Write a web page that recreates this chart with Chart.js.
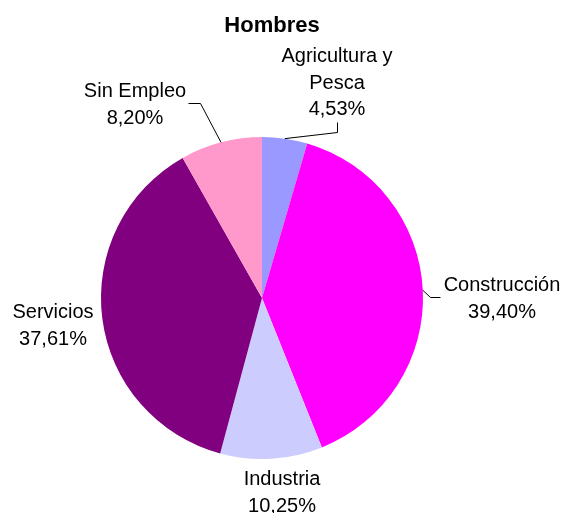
<!DOCTYPE html>
<html>
<head>
<meta charset="utf-8">
<script src="https://cdn.jsdelivr.net/npm/chart.js@4/dist/chart.umd.min.js"></script>
<style>
  html, body { margin: 0; padding: 0; background: #fff; }
  #wrap { width: 566px; height: 513px; position: relative; }
</style>
</head>
<body>
<div id="wrap"><canvas id="c"></canvas></div>
<script>
// data
const categories = ["Agricultura y Pesca", "Construcción", "Industria", "Servicios", "Sin Empleo"];
const values = [4.53, 39.40, 10.25, 37.61, 8.20];
const colors = ["#9999FF", "#FF00FF", "#CCCCFF", "#800080", "#FF99CC"];

// label text lines, anchor (center x, first baseline) and optional leader elbow/end
const labelLines = [
    ["Agricultura y", "Pesca"],
    ["Construcción"],
    ["Industria"],
    ["Servicios"],
    ["Sin Empleo"]
];
const labelPos = [
    { x: 337, y: 62, leader: [[337, 132], [337, 122]] },
    { x: 502, y: 291, leader: [[430, 297], [440, 297]] },
    { x: 282, y: 485, leader: null },
    { x: 53, y: 318, leader: null },
    { x: 135, y: 97, leader: [[200, 103], [188, 103]] }
];

const fmt = v => v.toFixed(2).replace(".", ",") + "%";
const FONT = '"Liberation Sans", Arial, sans-serif';

const pieLabels = {
    id: "pieLabels",
    afterDraw(chart) {
        const ctx = chart.ctx;
        const meta = chart.getDatasetMeta(0);
        ctx.save();

        // title
        ctx.fillStyle = "#000";
        ctx.font = "bold 22px " + FONT;
        ctx.textAlign = "center";
        ctx.textBaseline = "alphabetic";
        ctx.fillText("Hombres", 272, 32);

        meta.data.forEach((arc, i) => {
            const p = labelPos[i];
            // leader line from the slice's outer midpoint
            if (p.leader) {
                const mid = (arc.startAngle + arc.endAngle) / 2;
                const sx = arc.x + Math.cos(mid) * arc.outerRadius;
                const sy = arc.y + Math.sin(mid) * arc.outerRadius;
                ctx.beginPath();
                ctx.strokeStyle = "#000";
                ctx.lineWidth = 1;
                ctx.moveTo(sx, sy);
                p.leader.forEach(pt => ctx.lineTo(pt[0] + 0.5, pt[1] + 0.5));
                ctx.stroke();
            }
            ctx.font = "20px " + FONT;
            ctx.fillStyle = "#000";
            const lines = labelLines[i].concat([fmt(values[i])]);
            lines.forEach((t, k) => ctx.fillText(t, p.x, p.y + k * 26.5));
        });
        ctx.restore();
    }
};

new Chart(document.getElementById("c"), {
    type: "pie",
    data: {
        labels: categories,
        datasets: [{
            data: values,
            backgroundColor: colors,
            borderWidth: 0
        }]
    },
    options: {
        responsive: true,
        maintainAspectRatio: false,
        animation: false,
        layout: { padding: { left: 101, right: 143, top: 137, bottom: 54 } },
        plugins: {
            legend: { display: false },
            tooltip: { enabled: false }
        }
    },
    plugins: [pieLabels]
});
</script>
</body>
</html>
